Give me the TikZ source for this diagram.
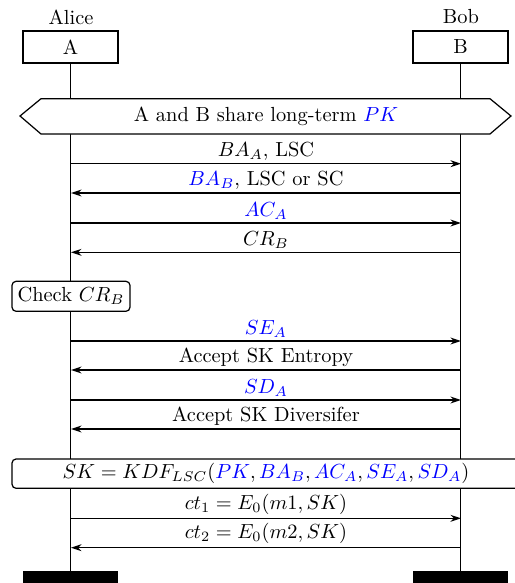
\documentclass[tikz,border=0pt]{standalone}
\usetikzlibrary{arrows.meta}
\begin{document}
\begin{tikzpicture}[x=0.49pt,y=-0.49pt,
  inst/.style={draw,line width=0.6pt,minimum width=46.5pt,minimum height=15.7pt,inner sep=0pt},
  bar/.style={fill=black,draw=none,minimum width=46.5pt,minimum height=12pt,inner sep=0pt,anchor=north},
  life/.style={line width=0.6pt},
  msg/.style={line width=0.6pt,-{Stealth[length=5.2pt,width=3.4pt,inset=1.7pt]}},
  lbl/.style={midway,above,inner sep=1.5pt}]
\useasboundingbox (0,0) rectangle (515,583);
\clip (0,0) rectangle (515,583);
% instances
\node (alice) at (71,17) {Alice};
\node (bob) at (461,17) {Bob};
\node[inst] (A) at (70.5,47) {A};
\node[inst] (B) at (460.5,47) {B};
\node[bar] (barA) at (70.5,571) {};
\node[bar] (barB) at (460.5,571) {};
\draw[life] (A.south) -- (barA.north);
\draw[life] (B.south) -- (barB.north);
% shared PK hexagon
\filldraw[fill=white,line width=0.6pt] (20,116) -- (41,98.7) -- (490,98.7) -- (511,116) -- (490,134) -- (41,134) -- cycle;
\node (pk) at (266,116) {A and B share long-term \textcolor{blue}{$PK$}};
% messages
\foreach \n/\y in {1/163.7,2/193,3/223,4/252.3,5/341,6/370,7/400,8/429,9/518.3,10/547.7}{
  \coordinate (a\n) at (71,\y);
  \coordinate (b\n) at (461,\y);
}
\draw[msg] (a1) -- node[lbl] {$BA_A$, LSC} (b1);
\draw[msg] (b2) -- node[lbl] {\textcolor{blue}{$BA_B$}, LSC or SC} (a2);
\draw[msg] (a3) -- node[lbl] {\textcolor{blue}{$AC_A$}} (b3);
\draw[msg] (b4) -- node[lbl] {$CR_B$} (a4);
% check
\filldraw[fill=white,rounded corners=2pt,line width=0.6pt] (12,281.3) rectangle (130,311.3);
\node (check) at (71,296) {Check $CR_B$};
\draw[msg] (a5) -- node[lbl] {\textcolor{blue}{$SE_A$}} (b5);
\draw[msg] (b6) -- node[lbl] {Accept SK Entropy} (a6);
\draw[msg] (a7) -- node[lbl] {\textcolor{blue}{$SD_A$}} (b7);
\draw[msg] (b8) -- node[lbl] {Accept SK Diversifer} (a8);
% SK derivation
\filldraw[fill=white,rounded corners=2pt,line width=0.6pt] (12,459) rectangle (520,488.3);
\node (sk) at (266,473.7) {$SK = KDF_{LSC}(\textcolor{blue}{PK}, \textcolor{blue}{BA_B}, \textcolor{blue}{AC_A}, \textcolor{blue}{SE_A}, \textcolor{blue}{SD_A})$};
\draw[msg] (a9) -- node[lbl] {$ct_1 = E_0(m1, SK)$} (b9);
\draw[msg] (b10) -- node[lbl] {$ct_2 = E_0(m2, SK)$} (a10);
\end{tikzpicture}
\end{document}
